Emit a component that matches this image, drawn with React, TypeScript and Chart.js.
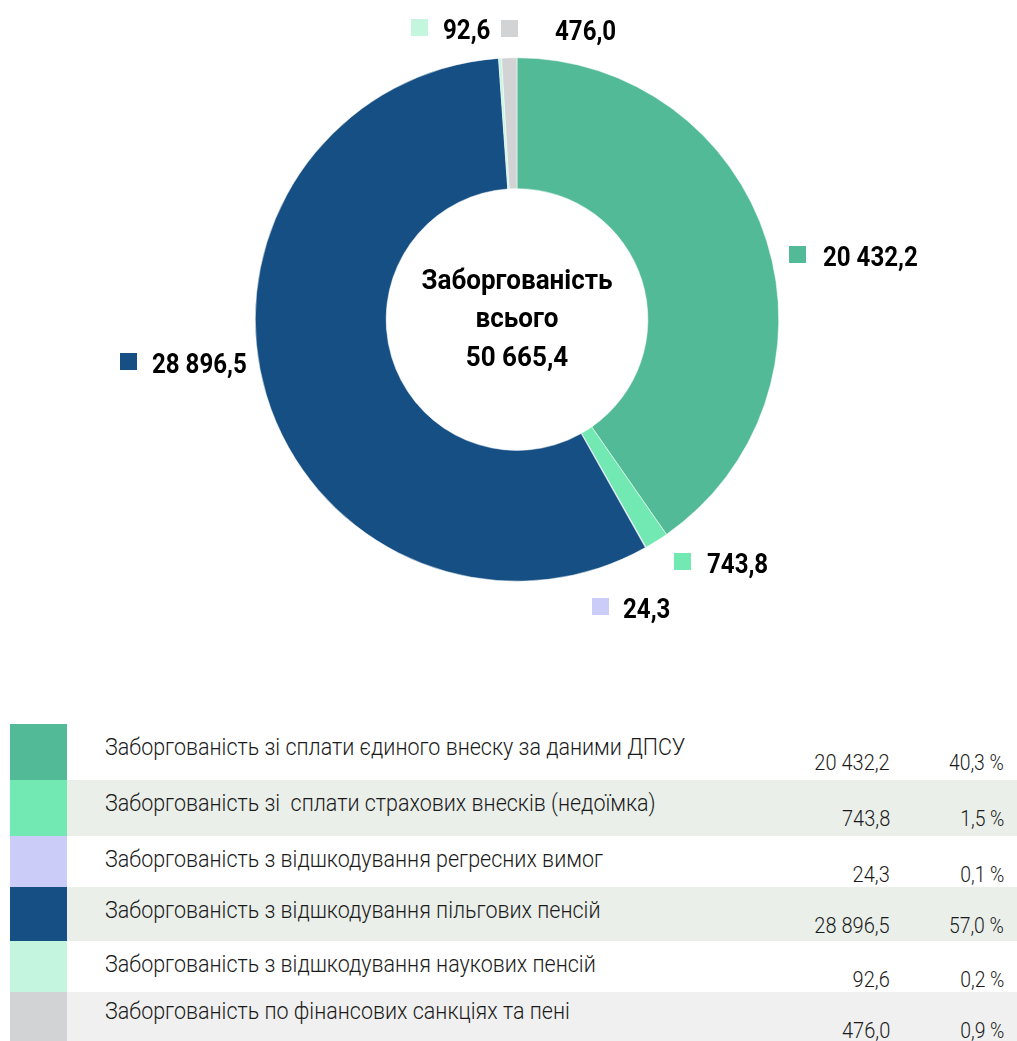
import React, { useEffect, useRef } from "react";
import { Chart, registerables } from "chart.js";

Chart.register(...registerables);

const categories = [
  "Заборгованість зі сплати єдиного внеску за даними ДПСУ",
  "Заборгованість зі  сплати страхових внесків (недоїмка)",
  "Заборгованість з відшкодування регресних вимог",
  "Заборгованість з відшкодування пільгових пенсій",
  "Заборгованість з відшкодування наукових пенсій",
  "Заборгованість по фінансових санкціях та пені",
];
const values = [20432.2, 743.8, 24.3, 28896.5, 92.6, 476.0];
const valueLabels = ["20 432,2", "743,8", "24,3", "28 896,5", "92,6", "476,0"];
const percentLabels = ["40,3 %", "1,5 %", "0,1 %", "57,0 %", "0,2 %", "0,9 %"];
const centerLines = ["Заборгованість", "всього", "50 665,4"];
const colors = ["#52BA97", "#72E8B2", "#CCCCF8", "#154F84", "#C3F5DF", "#D2D3D5"];

// label placement relative to chart centre: square left/top, text x gap
const labelSquareDx = [272, 157, 75, -397, -106, -16];
const labelSquareDy = [-73.5, 233.5, 278.5, 33.5, -300.5, -299.5];
const labelTextGap = [34, 33, 31, 32, 32, 54];

const rowHeights = [56, 56, 51, 54, 51, 49];
const rowBgs = ["#FFFFFF", "#EAEFEA", "#FFFFFF", "#EAEFEA", "#FFFFFF", "#F0F0F0"];

const FONT = "Roboto, 'DejaVu Sans Condensed', sans-serif";

const outsideLabels = {
  id: "outsideLabels",
  afterDraw(chart: any) {
    const ctx = chart.ctx;
    const arc = chart.getDatasetMeta(0).data[0];
    if (!arc) return;
    const cx = arc.x;
    const cy = arc.y;
    ctx.save();
    valueLabels.forEach((t, i) => {
      const sx = cx + labelSquareDx[i];
      const sy = cy + labelSquareDy[i];
      ctx.fillStyle = colors[i];
      ctx.fillRect(sx, sy, 17, 17);
      ctx.save();
      ctx.fillStyle = "#000";
      ctx.font = `bold 28px ${FONT}`;
      ctx.textAlign = "left";
      ctx.textBaseline = "alphabetic";
      ctx.translate(sx + labelTextGap[i], sy + 20);
      ctx.scale(0.86, 1);
      ctx.fillText(t, 0, 0);
      ctx.restore();
    });
    ctx.font = `bold 28px ${FONT}`;
    ctx.textAlign = "center";
    ctx.textBaseline = "alphabetic";
    ctx.fillStyle = "#000";
    centerLines.forEach((l, i) => {
      ctx.save();
      ctx.translate(cx, cy - 31 + i * 38.5);
      ctx.scale(0.93, 1);
      ctx.fillText(l, 0, 0);
      ctx.restore();
    });
    ctx.restore();
  },
};

export default function App() {
  const ref = useRef<HTMLCanvasElement>(null);
  useEffect(() => {
    if (!ref.current) return;
    const chart = new Chart(ref.current, {
      type: "doughnut",
      data: {
        labels: categories,
        datasets: [
          {
            data: values,
            backgroundColor: colors,
            borderColor: "#FFFFFF",
            borderWidth: 0.5,
          },
        ],
      },
      options: {
        animation: false,
        responsive: false,
        cutout: "50%",
        layout: { padding: { top: 57, bottom: 78, left: 255, right: 238 } },
        plugins: {
          legend: { display: false },
          tooltip: { enabled: false },
        },
      },
      plugins: [outsideLabels],
    });
    return () => chart.destroy();
  }, []);

  let top = 724;
  const rows = categories.map((c, i) => {
    const t = top;
    top += rowHeights[i];
    const textStyle: React.CSSProperties = {
      position: "absolute",
      fontFamily: FONT,
      fontWeight: 300,
      color: "#1a1a1a",
      whiteSpace: "pre",
      lineHeight: "28px",
    };
    return (
      <div
        key={i}
        style={{ position: "absolute", left: 0, top: t, width: 1017, height: rowHeights[i] }}
      >
        <div style={{ position: "absolute", left: 10, top: 0, width: 57, height: "100%", background: colors[i] }} />
        <div style={{ position: "absolute", left: 67, top: 0, right: 0, height: "100%", background: rowBgs[i] }} />
        <div
          style={{
            ...textStyle,
            left: 105,
            top: i === 5 ? 5 : 9,
            fontSize: 24,
            transform: "scaleX(0.895)",
            transformOrigin: "left top",
          }}
        >
          {c}
        </div>
        <div
          style={{
            ...textStyle,
            right: 1017 - 890,
            top: 24,
            fontSize: 22.5,
            transform: "scaleX(0.89)",
            transformOrigin: "right top",
          }}
        >
          {valueLabels[i]}
        </div>
        <div
          style={{
            ...textStyle,
            right: 1017 - 1004,
            top: 24,
            fontSize: 22.5,
            transform: "scaleX(0.86)",
            transformOrigin: "right top",
          }}
        >
          {percentLabels[i]}
        </div>
      </div>
    );
  });

  return (
    <div style={{ position: "absolute", left: 0, top: 0, width: 1017, height: 1041, background: "#fff", overflow: "hidden" }}>
      <canvas ref={ref} width={1017} height={660} style={{ position: "absolute", left: 0, top: 0 }} />
      {rows}
    </div>
  );
}
